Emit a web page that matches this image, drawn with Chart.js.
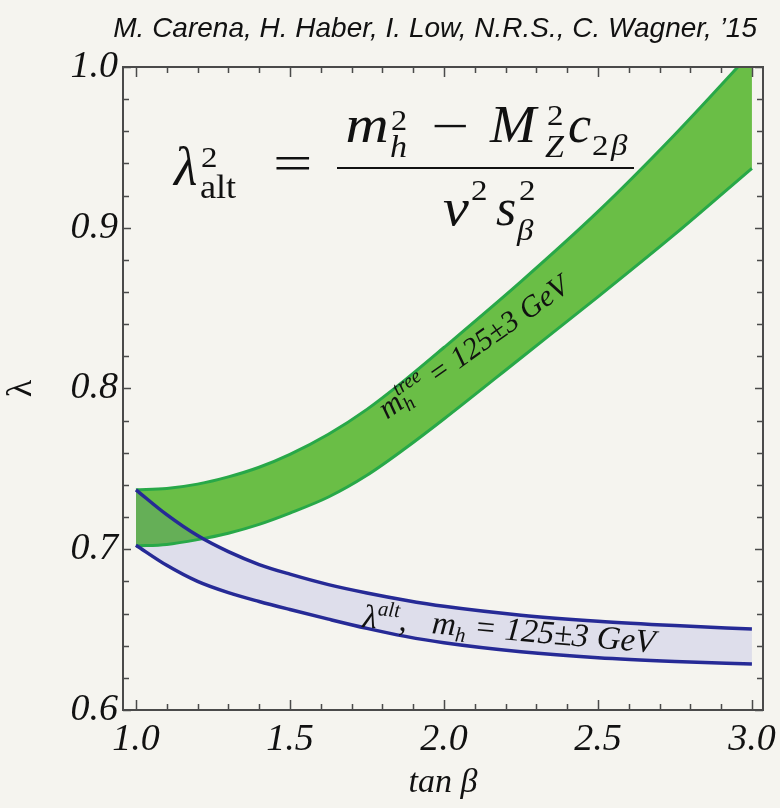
<!DOCTYPE html>
<html>
<head>
<meta charset="utf-8">
<script src="https://cdn.jsdelivr.net/npm/chart.js@4.4.1/dist/chart.umd.min.js"></script>
<style>
  html, body { margin: 0; padding: 0; background: #f5f4ef; }
  #wrap { width: 780px; height: 808px; }
</style>
</head>
<body>
<div id="wrap"><canvas id="chart" width="780" height="808"></canvas></div>
<script>
// tan beta sample points
const tanBeta = [1.0, 1.1, 1.2, 1.3, 1.4, 1.5, 1.625, 1.75, 1.875, 2.0, 2.25, 2.5, 2.75, 3.0];

// m_h^tree = 125 +- 3 GeV band (green)
const treeUpper = [0.737, 0.7378, 0.7405, 0.745, 0.751, 0.759, 0.7715, 0.787, 0.8055, 0.8255, 0.8665, 0.910, 0.958, 1.0095];
const treeLower = [0.702, 0.703, 0.706, 0.710, 0.7155, 0.7225, 0.7325, 0.746, 0.7628, 0.781, 0.819, 0.857, 0.896, 0.937];

// lambda_alt, m_h = 125 +- 3 GeV band (blue)
const altUpper = [0.737, 0.7215, 0.7085, 0.6985, 0.6905, 0.6845, 0.678, 0.6728, 0.6683, 0.6645, 0.659, 0.6552, 0.6525, 0.6504];
const altLower = [0.7025, 0.690, 0.680, 0.673, 0.6675, 0.6625, 0.6565, 0.6508, 0.6458, 0.6418, 0.6362, 0.6325, 0.6302, 0.6286];

// ticks
const xMajorTicks = [1.0, 1.5, 2.0, 2.5, 3.0];
const xMinorTicks = [1.1, 1.2, 1.3, 1.4, 1.6, 1.7, 1.8, 1.9, 2.1, 2.2, 2.3, 2.4, 2.6, 2.7, 2.8, 2.9];
const yMajorTicks = [0.6, 0.7, 0.8, 0.9, 1.0];
const yMinorTicks = [0.62, 0.64, 0.66, 0.68, 0.72, 0.74, 0.76, 0.78, 0.82, 0.84, 0.86, 0.88, 0.92, 0.94, 0.96, 0.98];

// band label anchors, in data units
const treeLabelAt = [1.815, 0.7805];
const altLabelAt = [1.734, 0.6516];

const serif = '"Liberation Serif", "Times New Roman", serif';
const it = s => 'italic ' + s + 'px ' + serif;
const up = s => s + 'px ' + serif;

// formula pieces: text, font, left, right, baseline, align (l/c/r), max stretch
const formula = [
  ['\u03bb', it(54), 172, 197, 185, 'r', 1.12],
  ['2', up(30), 202, 218, 167, 'l', 1.1],
  ['alt', up(33), 201, 247, 198, 'l', 1.1],
  ['=', up(50), 274, 311, 180, 'c', 1.4],
  ['m', it(52), 339, 387, 142, 'r', 1.15],
  ['2', up(30), 392, 406, 130, 'l', 1.1],
  ['h', it(31), 391, 409, 157, 'l', 1.1],
  ['\u2212', up(48), 432, 468, 142, 'c', 1.4],
  ['M', it(52), 489, 539, 142, 'r', 1.12],
  ['2', up(30), 548, 563, 125, 'l', 1.1],
  ['Z', it(31), 545, 567, 157, 'l', 1.1],
  ['c', it(52), 569, 591, 142, 'r', 1.12],
  ['2', up(30), 593, 609, 155, 'l', 1.1],
  ['\u03b2', it(30), 610, 642, 155, 'l', 1.1],
  ['v', it(52), 441, 470, 225, 'r', 1.12],
  ['2', up(30), 472, 487, 200, 'l', 1.1],
  ['s', it(52), 496, 515, 225, 'r', 1.12],
  ['2', up(30), 520, 537, 200, 'l', 1.1],
  ['\u03b2', it(30), 516, 541, 240, 'l', 1.1]
];

function pts(ys) {
  return tanBeta.map((x, i) => ({ x: x, y: ys[i] }));
}

// draw a glyph inside x0..x1, stretched a little if it is too narrow
function fitText(ctx, t, font, x0, x1, y, align, maxStretch) {
  ctx.font = font;
  const m = ctx.measureText(t);
  const gw = m.actualBoundingBoxLeft + m.actualBoundingBoxRight;
  const sx = Math.min((x1 - x0) / gw, maxStretch);
  const spare = (x1 - x0) - gw * sx;
  const off = align === 'l' ? 0 : align === 'r' ? spare : spare / 2;
  ctx.save();
  ctx.translate(x0 + off, y);
  ctx.scale(sx, 1);
  ctx.fillText(t, m.actualBoundingBoxLeft, 0);
  ctx.restore();
}

// draw a run of [text, font, dy, noAdvance] pieces, returns the x where it ended
function run(ctx, x, y, pieces) {
  for (const p of pieces) {
    ctx.font = p[1];
    ctx.fillText(p[0], x, y + (p[2] || 0));
    if (!p[3]) x += ctx.measureText(p[0]).width;
  }
  return x;
}

const framePlugin = {
  id: 'frame',
  beforeDraw(chart) {
    const ctx = chart.ctx;
    ctx.save();
    ctx.fillStyle = '#f5f4ef';
    ctx.fillRect(0, 0, chart.width, chart.height);
    ctx.restore();
  },
  afterDatasetsDraw(chart) {
    const ctx = chart.ctx;
    const a = chart.chartArea;
    const xs = chart.scales.x, ys = chart.scales.y;
    ctx.save();
    ctx.strokeStyle = '#4a4a4a';
    ctx.lineWidth = 1.5;
    ctx.beginPath();
    const tickX = (v, len) => {
      const px = Math.round(xs.getPixelForValue(v)) + 0.5;
      ctx.moveTo(px, a.bottom); ctx.lineTo(px, a.bottom - len);
      ctx.moveTo(px, a.top); ctx.lineTo(px, a.top + len);
    };
    const tickY = (v, len) => {
      const py = Math.round(ys.getPixelForValue(v)) + 0.5;
      ctx.moveTo(a.left, py); ctx.lineTo(a.left + len, py);
      ctx.moveTo(a.right, py); ctx.lineTo(a.right - len, py);
    };
    xMajorTicks.forEach(v => tickX(v, 10));
    xMinorTicks.forEach(v => tickX(v, 6));
    yMajorTicks.forEach(v => tickY(v, 8));
    yMinorTicks.forEach(v => tickY(v, 6));
    ctx.stroke();
    ctx.lineWidth = 2;
    ctx.strokeRect(a.left, a.top, a.right - a.left, a.bottom - a.top);
    ctx.restore();
  },
  afterDraw(chart) {
    const ctx = chart.ctx;
    const xs = chart.scales.x, ys = chart.scales.y;
    ctx.save();
    ctx.fillStyle = '#111';
    ctx.textBaseline = 'alphabetic';

    // credit line
    ctx.textAlign = 'right';
    ctx.font = 'italic 28px "Liberation Sans", Arial, sans-serif';
    ctx.fillText('M. Carena, H. Haber, I. Low, N.R.S., C. Wagner, \u201915', 757, 37);

    // formula
    ctx.textAlign = 'left';
    formula.forEach(p => fitText(ctx, p[0], p[1], p[2], p[3], p[4], p[5], p[6]));
    ctx.fillRect(337, 167, 297, 2);

    // label along the green band
    ctx.save();
    ctx.translate(xs.getPixelForValue(treeLabelAt[0]), ys.getPixelForValue(treeLabelAt[1]));
    ctx.rotate(-35.2 * Math.PI / 180);
    let x = run(ctx, 0, 0, [['m', it(31)]]);
    ctx.font = it(20); ctx.fillText('tree', x, -13);
    ctx.font = it(20); ctx.fillText('h', x, 6);
    x += ctx.measureText('tree').width;
    run(ctx, x, 0, [[' = 125\u00b13 GeV', it(30)]]);
    ctx.restore();

    // label along the blue band
    ctx.save();
    ctx.translate(xs.getPixelForValue(altLabelAt[0]), ys.getPixelForValue(altLabelAt[1]));
    ctx.rotate(5.05 * Math.PI / 180);
    run(ctx, 0, 0, [['\u03bb', it(33)], ['alt', it(21), -13], [',   ', it(33)], ['m', it(33)], ['h', it(21), 6], [' = 125\u00b13 GeV', it(33)]]);
    ctx.restore();

    ctx.restore();
  }
};

const greenLine = 'rgb(40,168,72)';
const greenFill = 'rgb(106,190,70)';
const blueLine = 'rgb(38,42,150)';
const blueFill = 'rgba(70,80,210,0.13)';

new Chart(document.getElementById('chart'), {
  type: 'line',
  data: {
    datasets: [
      { data: pts(treeUpper), borderColor: greenLine, backgroundColor: greenFill, fill: '+1', order: 2 },
      { data: pts(treeLower), borderColor: greenLine, fill: false, order: 2 },
      { data: pts(altUpper), borderColor: blueLine, backgroundColor: blueFill, fill: '+1', order: 1, borderWidth: 3.5 },
      { data: pts(altLower), borderColor: blueLine, fill: false, order: 1, borderWidth: 3.5 }
    ]
  },
  options: {
    responsive: false,
    animation: false,
    events: [],
    layout: { padding: { left: 0, right: 17, top: 67, bottom: 0 } },
    elements: {
      point: { radius: 0 },
      line: { borderWidth: 3, cubicInterpolationMode: 'monotone' }
    },
    datasets: { line: { clip: 0 } },
    plugins: {
      legend: { display: false },
      tooltip: { enabled: false },
      filler: { drawTime: 'beforeDatasetsDraw' }
    },
    scales: {
      x: {
        type: 'linear',
        min: 0.958,
        max: 3.036,
        grid: { display: false, drawTicks: false },
        border: { display: false },
        afterBuildTicks: s => { s.ticks = xMajorTicks.map(v => ({ value: v })); },
        afterFit: s => { s.height = 98; s.paddingLeft = 0; s.paddingRight = 0; },
        ticks: {
          padding: 7,
          color: '#111',
          maxRotation: 0,
          autoSkip: false,
          font: { family: serif, style: 'italic', size: 38 },
          callback: v => v.toFixed(1)
        },
        title: {
          display: true,
          text: 'tan \u03b2',
          color: '#111',
          font: { family: serif, style: 'italic', size: 34, lineHeight: 1.2 },
          padding: { top: 0, bottom: 5 }
        }
      },
      y: {
        type: 'linear',
        min: 0.6,
        max: 1.0,
        grid: { display: false, drawTicks: false },
        border: { display: false },
        afterBuildTicks: s => { s.ticks = yMajorTicks.map(v => ({ value: v })); },
        afterFit: s => { s.width = 123; s.paddingTop = 0; s.paddingBottom = 0; },
        ticks: {
          padding: 5,
          color: '#111',
          font: { family: serif, style: 'italic', size: 38 },
          callback: v => v.toFixed(1)
        },
        title: {
          display: true,
          text: '\u03bb',
          color: '#111',
          font: { family: serif, size: 36, lineHeight: 1.2 },
          padding: { top: 0, bottom: 0 }
        }
      }
    }
  },
  plugins: [framePlugin]
});
</script>
</body>
</html>
